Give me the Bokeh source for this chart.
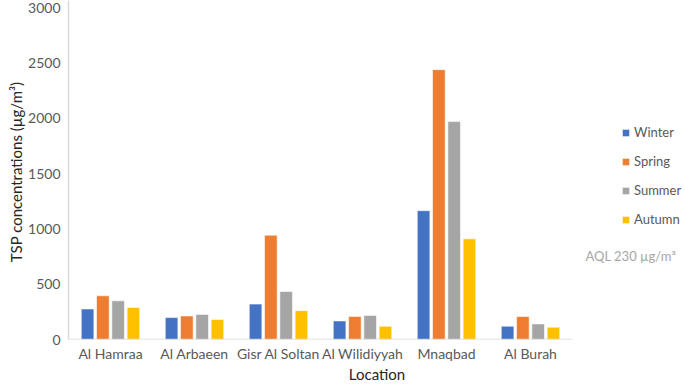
from bokeh.plotting import figure
from bokeh.models import (ColumnDataSource, Range1d, FixedTicker,
                          Legend, LegendItem, Label)
from bokeh.transform import dodge
from bokeh.embed import file_html
from bokeh.resources import INLINE

locations = ["Al Hamraa", "Al Arbaeen", "Gisr Al Soltan", "Al Wilidiyyah", "Mnaqbad", "Al Burah"]
winter = [276, 198, 320, 168, 1165, 120]
spring = [395, 213, 943, 209, 2440, 207]
summer = [350, 227, 434, 218, 1970, 141]
autumn = [290, 180, 261, 120, 910, 111]
seasons = ["Winter", "Spring", "Summer", "Autumn"]
colors = ["#4472C4", "#ED7D31", "#A5A5A5", "#FFC000"]
y_ticks = [0, 500, 1000, 1500, 2000, 2500, 3000]

FONT = "Lato"
xi = list(range(len(locations)))

source = ColumnDataSource(data=dict(xi=xi, location=locations, Winter=winter, Spring=spring,
                                    Summer=summer, Autumn=autumn))

p = figure(x_range=Range1d(-0.5, 6.845), y_range=Range1d(0, 3065),
           width=685, height=385, output_backend="svg", toolbar_location=None,
           min_border_left=68, min_border_right=0, min_border_top=0,
           min_border_bottom=46)
p.outline_line_color = None
p.background_fill_color = "white"
p.border_fill_color = "white"
p.xgrid.grid_line_color = None
p.ygrid.grid_line_color = None

offsets = [-0.273, -0.091, 0.091, 0.273]
renderers = []
for s, c, off in zip(seasons, colors, offsets):
    r = p.vbar(x=dodge("xi", off), top=s, width=0.15,
               source=source, fill_color=c, line_color="white", line_width=0.8,
               line_alpha=0.7)
    renderers.append(r)

# baseline spanning the categories only
p.segment(x0=[-0.5], y0=[0], x1=[len(locations) - 0.5], y1=[0],
          line_color="#D9D9D9", line_width=1.5)

# axes
p.yaxis.ticker = FixedTicker(ticks=y_ticks)
p.xaxis.ticker = FixedTicker(ticks=xi)
p.xaxis.major_label_overrides = {i: name for i, name in zip(xi, locations)}
for ax in (p.xaxis[0], p.yaxis[0]):
    ax.major_tick_line_color = None
    ax.minor_tick_line_color = None
    ax.major_tick_out = 0
    ax.major_tick_in = 0
    ax.minor_tick_out = 0
    ax.minor_tick_in = 0
    ax.major_label_text_font = FONT
    ax.major_label_text_font_size = "14px"
    ax.major_label_text_color = "#595959"
p.xaxis.axis_line_color = None
p.yaxis.axis_line_color = "#D9D9D9"
p.yaxis.axis_line_width = 1.5
p.yaxis.major_label_standoff = 8
p.xaxis.major_label_standoff = 5
p.yaxis.axis_label = "TSP concentrations  (µg/m³)"
p.xaxis.axis_label = "Location"
for ax in (p.xaxis[0], p.yaxis[0]):
    ax.axis_label_text_font = FONT
    ax.axis_label_text_font_size = "15px"
    ax.axis_label_text_font_style = "normal"
    ax.axis_label_text_color = "#262626"
p.yaxis.axis_label_standoff = 0
p.xaxis.axis_label_standoff = 0

legend = Legend(items=[LegendItem(label=s, renderers=[r]) for s, r in zip(seasons, renderers)],
                location=(553, 110), orientation="vertical")
legend.label_text_font = FONT
legend.label_text_font_size = "13px"
legend.label_text_color = "#595959"
legend.glyph_width = 9
legend.glyph_height = 9
legend.label_height = 20
legend.spacing = 9
legend.padding = 0
legend.margin = 0
legend.label_standoff = 4
legend.border_line_color = None
legend.background_fill_alpha = 0
p.add_layout(legend)

aql = Label(x=517, y=84, x_units="screen", y_units="screen", text="AQL 230 µg/m³",
            text_font=FONT, text_font_size="13px", text_color="#A6A6A6",
            text_align="left", text_baseline="middle")
p.add_layout(aql)

open("out.html", "w").write(file_html(p, INLINE))
